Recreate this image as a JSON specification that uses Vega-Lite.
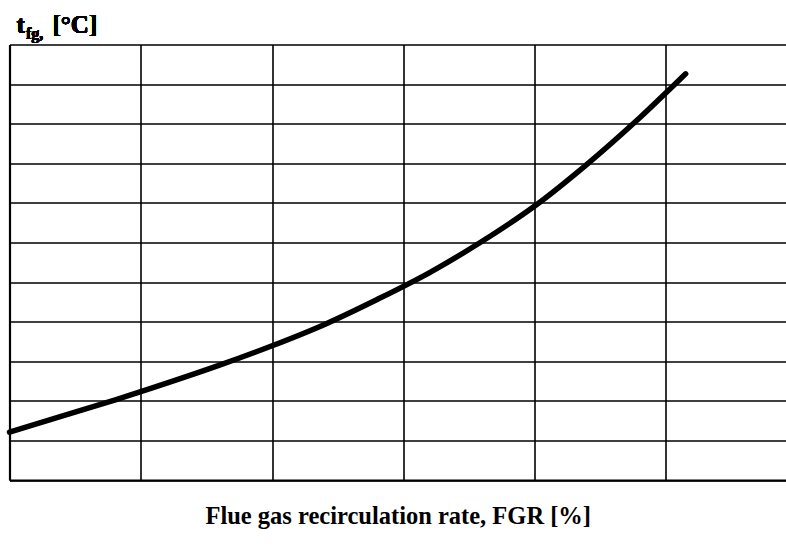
{
  "$schema": "https://vega.github.io/schema/vega-lite/v6.json",
  "autosize": "none",
  "width": 776.5,
  "height": 435.5,
  "padding": {"left": 9.5, "top": 44.5, "right": 0, "bottom": 75},
  "background": "white",
  "config": {
    "view": {"stroke": null},
    "axis": {
      "labels": false,
      "ticks": false,
      "grid": true,
      "gridColor": "#000000",
      "gridWidth": 1.6,
      "gridOpacity": 1,
      "domainColor": "#000000",
      "domainWidth": 2.2
    },
    "axisX": {
      "titleFont": "Liberation Serif",
      "titleFontSize": 24.5,
      "titleFontWeight": "bold",
      "titleColor": "#000000",
      "titleBaseline": "top",
      "titlePadding": 24
    }
  },
  "data": {
    "values": [
      {"FGR": 0, "tfg": 12.1},
      {"FGR": 4, "tfg": 20.2},
      {"FGR": 5, "tfg": 22.3},
      {"FGR": 8, "tfg": 29.0},
      {"FGR": 10, "tfg": 33.9},
      {"FGR": 12, "tfg": 39.3},
      {"FGR": 14, "tfg": 45.6},
      {"FGR": 16, "tfg": 52.4},
      {"FGR": 18, "tfg": 60.3},
      {"FGR": 20, "tfg": 69.2},
      {"FGR": 22, "tfg": 79.8},
      {"FGR": 24, "tfg": 91.5},
      {"FGR": 25, "tfg": 97.8},
      {"FGR": 25.75, "tfg": 102.6}
    ]
  },
  "layer": [
    {
      "mark": {"type": "line", "color": "#000000", "strokeWidth": 5.5, "strokeCap": "round", "interpolate": "catmull-rom", "clip": false},
      "encoding": {
        "x": {
          "field": "FGR", "type": "quantitative",
          "scale": {"domain": [0, 29.57], "nice": false, "zero": false},
          "axis": {"title": "Flue gas recirculation rate, FGR [%]", "values": [0, 5, 10, 15, 20, 25]}
        },
        "y": {
          "field": "tfg", "type": "quantitative",
          "scale": {"domain": [0, 110], "nice": false, "zero": false},
          "axis": {"title": null, "values": [0, 10, 20, 30, 40, 50, 60, 70, 80, 90, 100, 110]}
        }
      }
    },
    {
      "mark": {"type": "text", "text": "t", "font": "Liberation Serif", "fontSize": 25, "fontWeight": "bold", "align": "left", "baseline": "alphabetic", "dx": 7, "dy": -12, "color": "#000000"},
      "encoding": {
        "x": {"datum": 0, "axis": {"title": "Flue gas recirculation rate, FGR [%]", "values": [0, 5, 10, 15, 20, 25]}},
        "y": {"datum": 110, "axis": {"title": null, "values": [0, 10, 20, 30, 40, 50, 60, 70, 80, 90, 100, 110]}}
      }
    },
    {
      "mark": {"type": "text", "text": "fg,", "font": "Liberation Serif", "fontSize": 16, "fontWeight": "bold", "align": "left", "baseline": "alphabetic", "dx": 16.5, "dy": -6, "color": "#000000"},
      "encoding": {
        "x": {"datum": 0, "axis": {"title": "Flue gas recirculation rate, FGR [%]", "values": [0, 5, 10, 15, 20, 25]}},
        "y": {"datum": 110, "axis": {"title": null, "values": [0, 10, 20, 30, 40, 50, 60, 70, 80, 90, 100, 110]}}
      }
    },
    {
      "mark": {"type": "text", "text": "[°C]", "font": "Liberation Serif", "fontSize": 25, "fontWeight": "bold", "align": "left", "baseline": "alphabetic", "dx": 43, "dy": -12, "color": "#000000"},
      "encoding": {
        "x": {"datum": 0, "axis": {"title": "Flue gas recirculation rate, FGR [%]", "values": [0, 5, 10, 15, 20, 25]}},
        "y": {"datum": 110, "axis": {"title": null, "values": [0, 10, 20, 30, 40, 50, 60, 70, 80, 90, 100, 110]}}
      }
    }
  ]
}
